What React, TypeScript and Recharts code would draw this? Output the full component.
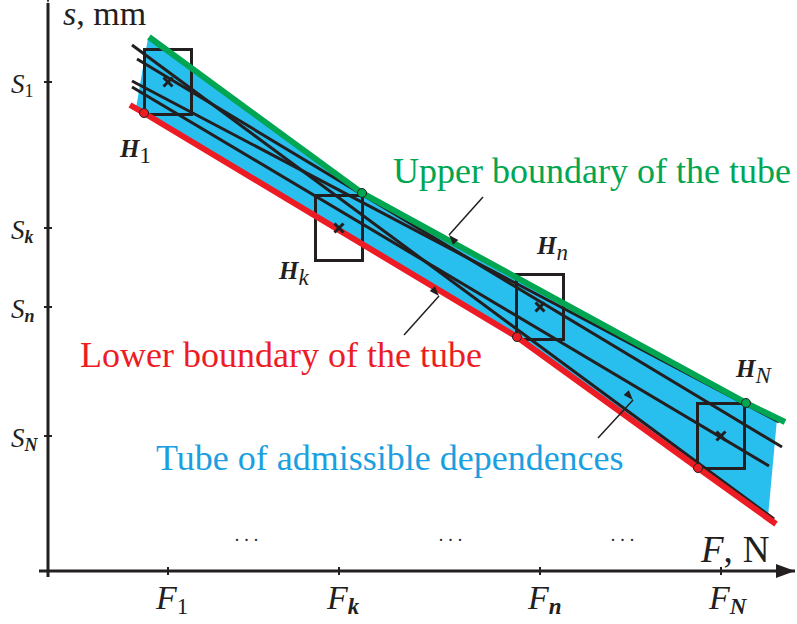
import React from "react";
import {
  ComposedChart,
  XAxis,
  YAxis,
  Area,
  Line,
  Scatter,
  ReferenceLine,
  ReferenceArea,
} from "recharts";

const ink = "#231f20";
const green = "#00a651";
const red = "#ed1c24";
const tubeBlue = "#28bfee";
const textBlue = "#1b9fe0";
const serif = "Liberation Serif, Times New Roman, serif";

// measured points H_i (force, displacement), in chart units from the origin
const forces = [120, 291, 492, 673];
const displacements = [489, 343, 264, 135];
const tickSubs = ["1", "k", "n", "N"];
// half size of the uncertainty box around each point
const halfF = 23.5;
const halfS = 32.5;

const upperBoundary = [
  { x: 101, y: 534 },
  { x: 314, y: 378 },
  { x: 698, y: 168 },
  { x: 737, y: 149 },
];
const lowerBoundary = [
  { x: 82, y: 466 },
  { x: 96, y: 458 },
  { x: 469, y: 234 },
  { x: 650, y: 103 },
  { x: 728, y: 47 },
];
// outline of the tube, walked round once
const tubeOutline = [
  { x: 100, y: 533 },
  { x: 314, y: 378 },
  { x: 698, y: 168 },
  { x: 729, y: 152 },
  { x: 720, y: 54 },
  { x: 650, y: 103 },
  { x: 469, y: 234 },
  { x: 96, y: 458 },
  { x: 88, y: 463 },
  { x: 100, y: 533 },
];
// admissible straight-line dependences
const fits = [
  [{ x: 84, y: 526 }, { x: 726, y: 52 }],
  [{ x: 89, y: 512 }, { x: 734, y: 124 }],
  [{ x: 84, y: 490 }, { x: 731, y: 149 }],
  [{ x: 84, y: 484 }, { x: 721, y: 105 }],
];
const greenDots = upperBoundary.slice(1, 3);
const redDots = lowerBoundary.slice(1, 4);

const pointers = [
  { tail: { x: 435, y: 374 }, head: { x: 401, y: 336 } },
  { tail: { x: 356, y: 236 }, head: { x: 391, y: 275 } },
  { tail: { x: 550, y: 133 }, head: { x: 585, y: 171 } },
];

const notes = [
  { x: 15, y: 546, kind: "yname" },
  { x: 653, y: 9, kind: "xname" },
  { x: 345, y: 388, kind: "big", text: "Upper boundary of the tube", color: green },
  { x: 32, y: 204, kind: "big", text: "Lower boundary of the tube", color: red },
  { x: 108, y: 101, kind: "big", text: "Tube of admissible dependences", color: textBlue },
  { x: 201, y: 30, kind: "dots" },
  { x: 405, y: 30, kind: "dots" },
  { x: 577, y: 30, kind: "dots" },
  { x: 72, y: 414, kind: "h", sub: "1" },
  { x: 231, y: 292, kind: "h", sub: "k" },
  { x: 489, y: 317, kind: "h", sub: "n" },
  { x: 688, y: 194, kind: "h", sub: "N" },
];

const points = forces.map((f, i) => ({ x: f, y: displacements[i] }));

const deg = (t: { x: number; y: number }, h: { x: number; y: number }) =>
  (Math.atan2(-(h.y - t.y), h.x - t.x) * 180) / Math.PI;

const heads = [
  { x: 747, y: 0, angle: 0, len: 19, w: 7 },
  { x: 0, y: 568, angle: -90, len: 19, w: 7 },
  ...pointers.map((p) => ({ x: p.head.x, y: p.head.y, angle: deg(p.tail, p.head), len: 10, w: 3.5 })),
];

const subStyle = (s: string) =>
  s === "1" ? { fontStyle: "normal", fontWeight: 400 } : { fontStyle: "italic", fontWeight: 700 };

const XTick = (props: any) => {
  const { x, y, index } = props;
  const s = tickSubs[index];
  return (
    <g>
      <line x1={x} x2={x} y1={y - 10} y2={y - 2} stroke={ink} strokeWidth={2} />
      <text x={x - 12} y={y + 32} style={{ fontFamily: serif }} fill={ink}>
        <tspan fontSize={34} fontStyle="italic">F</tspan>
        <tspan fontSize={23} dy={5} {...subStyle(s)}>{s}</tspan>
      </text>
    </g>
  );
};

const YTick = (props: any) => {
  const { x, y, index } = props;
  const s = tickSubs[tickSubs.length - 1 - index] ?? "";
  return (
    <g>
      <line x1={x + 5} x2={x + 13} y1={y} y2={y} stroke={ink} strokeWidth={2} />
      <text x={x - 28} y={y + 11} style={{ fontFamily: serif }} fill={ink}>
        <tspan fontSize={27} fontStyle="italic">S</tspan>
        <tspan fontSize={18} dy={4} {...subStyle(s)}>{s}</tspan>
      </text>
    </g>
  );
};

const Cross = (props: any) => {
  const { cx, cy } = props;
  const d = 4.5;
  return (
    <g stroke={ink} strokeWidth={3}>
      <line x1={cx - d} y1={cy - d} x2={cx + d} y2={cy + d} />
      <line x1={cx - d} y1={cy + d} x2={cx + d} y2={cy - d} />
    </g>
  );
};

const dotShape = (fill: string) => (props: any) =>
  <circle cx={props.cx} cy={props.cy} r={4.5} fill={fill} stroke={ink} strokeWidth={1} />;

const Head = (props: any) => {
  const { cx, cy } = props;
  const p = props.payload ?? props;
  return (
    <polygon
      points={`0,0 ${-p.len},${-p.w} ${-p.len},${p.w}`}
      fill={ink}
      transform={`translate(${cx},${cy}) rotate(${-p.angle})`}
    />
  );
};

const Note = (props: any) => {
  const { cx, cy } = props;
  const p = props.payload ?? props;
  const st = { fontFamily: serif };
  if (p.kind === "big")
    return (
      <text x={cx} y={cy} style={st} fontSize={36} fill={p.color}>
        {p.text}
      </text>
    );
  if (p.kind === "dots")
    return (
      <text x={cx} y={cy} style={st} fontSize={18} fill={ink} textAnchor="middle" letterSpacing={5}>
        ...
      </text>
    );
  if (p.kind === "yname")
    return (
      <text x={cx} y={cy} style={st} fontSize={34} fill={ink}>
        <tspan fontStyle="italic">s</tspan>, mm
      </text>
    );
  if (p.kind === "xname")
    return (
      <text x={cx} y={cy} style={st} fontSize={37} fill={ink}>
        <tspan fontStyle="italic">F</tspan>
        <tspan>,</tspan>
        <tspan dx={10}>N</tspan>
      </text>
    );
  return (
    <text x={cx} y={cy} style={st} fill={ink}>
      <tspan fontSize={25} fontStyle="italic" fontWeight={700}>H</tspan>
      <tspan fontSize={23} dy={6} fontStyle={p.sub === "1" ? "normal" : "italic"}>{p.sub}</tspan>
    </text>
  );
};

export default function App() {
  return (
    <div style={{ position: "absolute", left: 0, top: 0, background: "#fff" }}>
      <ComposedChart width={797} height={624} margin={{ top: 3, right: 2, left: 0, bottom: 0 }}>
        <XAxis
          type="number"
          dataKey="x"
          domain={[-9, 747]}
          ticks={forces}
          interval={0}
          height={47}
          axisLine={false}
          tickLine={false}
          tickSize={0}
          tickMargin={0}
          tick={<XTick />}
        />
        <YAxis
          type="number"
          dataKey="y"
          domain={[-6, 568]}
          ticks={[...displacements].reverse()}
          interval={0}
          width={39}
          axisLine={false}
          tickLine={false}
          tickSize={0}
          tickMargin={0}
          tick={<YTick />}
        />
        <Area
          data={tubeOutline}
          dataKey="y"
          type="linear"
          stroke="none"
          fill={tubeBlue}
          fillOpacity={1}
          baseValue={0}
          dot={false}
          activeDot={false}
          isAnimationActive={false}
        />
        {fits.map((seg, i) => (
          <Line
            key={i}
            data={seg}
            dataKey="y"
            type="linear"
            stroke={ink}
            strokeWidth={3}
            dot={false}
            activeDot={false}
            isAnimationActive={false}
          />
        ))}
        <Line data={upperBoundary} dataKey="y" type="linear" stroke={green} strokeWidth={6} dot={false} activeDot={false} isAnimationActive={false} />
        <Line data={lowerBoundary} dataKey="y" type="linear" stroke={red} strokeWidth={6} dot={false} activeDot={false} isAnimationActive={false} />
        {points.map((p, i) => (
          <ReferenceArea
            key={i}
            x1={p.x - halfF}
            x2={p.x + halfF}
            y1={p.y - halfS}
            y2={p.y + halfS}
            fill="none"
            fillOpacity={0}
            stroke={ink}
            strokeWidth={3}
            strokeOpacity={1}
            ifOverflow="visible"
          />
        ))}
        <Scatter data={points} dataKey="y" shape={<Cross />} isAnimationActive={false} />
        <Scatter data={greenDots} dataKey="y" shape={dotShape(green)} isAnimationActive={false} />
        <Scatter data={redDots} dataKey="y" shape={dotShape(red)} isAnimationActive={false} />
        <ReferenceLine y={0} stroke={ink} strokeWidth={3} />
        <ReferenceLine x={0} stroke={ink} strokeWidth={3} />
        {pointers.map((p, i) => (
          <ReferenceLine key={i} segment={[p.tail, p.head]} stroke={ink} strokeWidth={1.5} />
        ))}
        <Scatter data={heads} dataKey="y" shape={<Head />} isAnimationActive={false} />
        <Scatter data={notes} dataKey="y" shape={<Note />} isAnimationActive={false} />
      </ComposedChart>
    </div>
  );
}
